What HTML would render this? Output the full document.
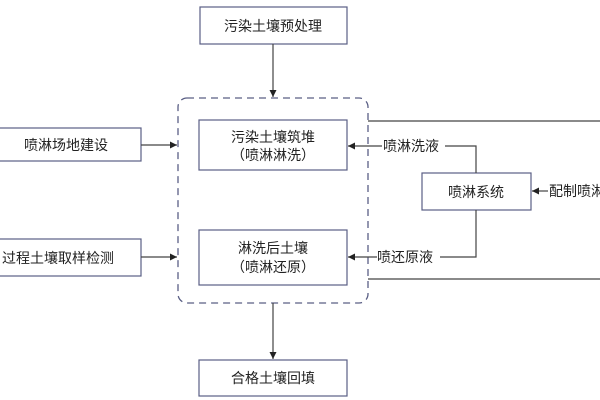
<!DOCTYPE html>
<html><head><meta charset="utf-8"><style>
html,body{margin:0;padding:0;background:#fff;width:600px;height:400px;overflow:hidden}
svg text{font-family:"Liberation Sans","Noto Sans CJK SC",sans-serif;font-size:14px;fill:#222}
</style></head><body>
<svg width="600" height="400" viewBox="0 0 600 400" xmlns="http://www.w3.org/2000/svg">
<defs><marker id="a" markerWidth="8" markerHeight="8" refX="7" refY="4" orient="auto" markerUnits="userSpaceOnUse"><path d="M0,0.5 L7,4 L0,7.5z" fill="#222"/></marker></defs>
<g fill="#fff" stroke="#5a5f85" stroke-width="1.2">
<rect x="200" y="7" width="147" height="37"/>
<rect x="199" y="120" width="148" height="50"/>
<rect x="199" y="230" width="148" height="55"/>
<rect x="-5" y="128" width="146" height="33"/>
<rect x="-5" y="239" width="146" height="37"/>
<rect x="422" y="173" width="109" height="37"/>
<rect x="199" y="360" width="148" height="36"/>
</g>
<rect x="178" y="98" width="190" height="205" rx="9" fill="none" stroke="#5a5f85" stroke-width="1.3" stroke-dasharray="7,5"/>
<g stroke="#444" stroke-width="1.2" fill="none">
<line x1="273" y1="44" x2="273" y2="97" marker-end="url(#a)"/>
<line x1="273" y1="303" x2="273" y2="359" marker-end="url(#a)"/>
<line x1="141" y1="145" x2="177" y2="145" marker-end="url(#a)"/>
<line x1="141" y1="257" x2="177" y2="257" marker-end="url(#a)"/>
<line x1="368" y1="121" x2="600" y2="121"/>
<line x1="368" y1="279" x2="600" y2="279"/>
<polyline points="476,173 476,146 445,146"/>
<line x1="382" y1="146" x2="348" y2="146" marker-end="url(#a)"/>
<polyline points="476,210 476,257 440,257"/>
<line x1="377" y1="257" x2="348" y2="257" marker-end="url(#a)"/>
<line x1="548" y1="191" x2="532" y2="191" marker-end="url(#a)"/>
</g>
<text x="273" y="31" text-anchor="middle">污染土壤预处理</text>
<text x="273" y="142" text-anchor="middle">污染土壤筑堆</text>
<text x="273" y="160" text-anchor="middle">（喷淋淋洗）</text>
<text x="273" y="253" text-anchor="middle">淋洗后土壤</text>
<text x="273" y="272" text-anchor="middle">（喷淋还原）</text>
<text x="66" y="150" text-anchor="middle">喷淋场地建设</text>
<text x="58" y="263" text-anchor="middle">过程土壤取样检测</text>
<text x="476" y="197" text-anchor="middle">喷淋系统</text>
<text x="383" y="151">喷淋洗液</text>
<text x="377" y="262">喷还原液</text>
<text x="549" y="196">配制喷淋液</text>
<text x="273" y="383" text-anchor="middle">合格土壤回填</text>
</svg>
</body></html>
